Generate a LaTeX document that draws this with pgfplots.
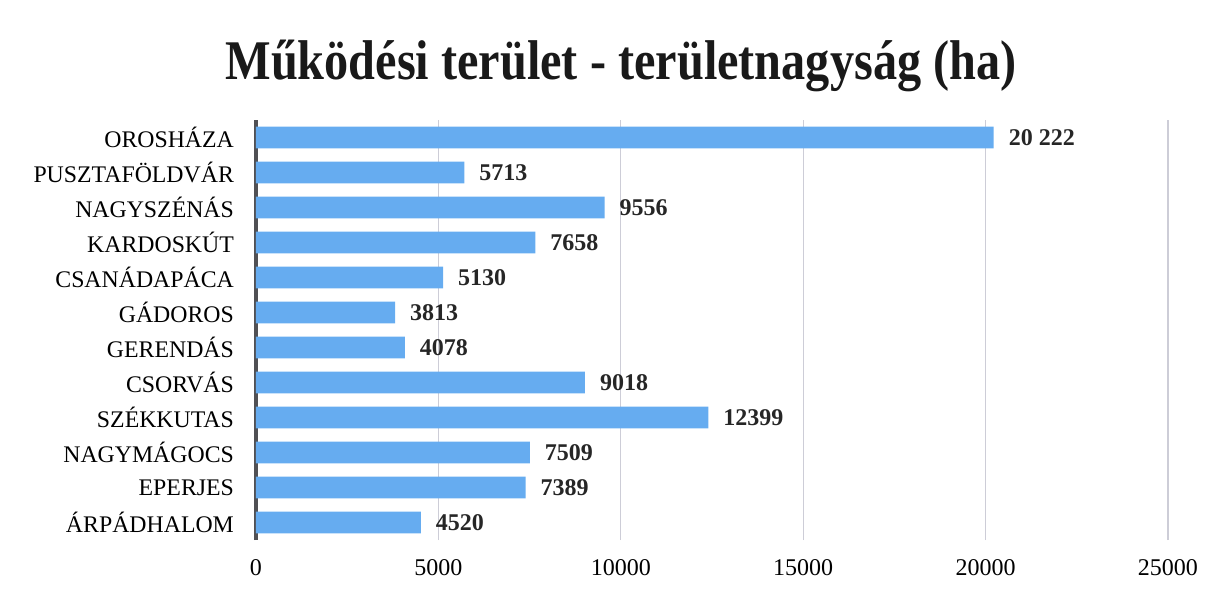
\documentclass[border=0pt]{standalone}
\usepackage{pgfplots}
\pgfplotsset{compat=1.18}
\usepackage{fontspec}
\setmainfont{Liberation Serif}
\definecolor{barblue}{RGB}{102,172,240}
\definecolor{axisgray}{RGB}{80,80,84}
\definecolor{gridgray}{RGB}{205,205,215}
\begin{document}
\begin{tikzpicture}
\useasboundingbox (-128pt,-25.5pt) rectangle (480.5pt,270pt);
\begin{axis}[
  at={(0,0)}, anchor=south west,
  scale only axis, width=456pt, height=210pt,
  xbar, bar width=10.8pt,
  xmin=0, xmax=25000, ymin=-0.5, ymax=11.5,
  xtick={0,5000,10000,15000,20000,25000},
  ytick={0,...,11},
  yticklabels={ÁRPÁDHALOM,EPERJES,NAGYMÁGOCS,SZÉKKUTAS,CSORVÁS,GERENDÁS,GÁDOROS,CSANÁDAPÁCA,KARDOSKÚT,NAGYSZÉNÁS,PUSZTAFÖLDVÁR,OROSHÁZA},
  scaled x ticks=false,
  /pgf/number format/assume math mode=true,
  /pgf/number format/set thousands separator={},
  xticklabel style={font=\fontsize{12}{14}\selectfont, yshift=-6pt},
  yticklabel style={font=\fontsize{11.9}{14}\selectfont, xshift=-7.5pt},
  major tick length=0pt,
  axis x line*=bottom, axis y line*=left,
  x axis line style={draw=none},
  y axis line style={draw=axisgray, line width=1.6pt},
  xmajorgrids, grid style={gridgray, line width=0.6pt},
  point meta=explicit symbolic,
  nodes near coords,
  nodes near coords style={font=\bfseries\fontsize{12}{14}\selectfont, anchor=west, xshift=4pt, text=black!85},
  clip=false,
]
\addplot[fill=barblue, draw=none] coordinates {
(4520,0) [4520]
(7389,1) [7389]
(7509,2) [7509]
(12399,3) [12399]
(9018,4) [9018]
(4078,5) [4078]
(3813,6) [3813]
(5130,7) [5130]
(7658,8) [7658]
(9556,9) [9556]
(5713,10) [5713]
(20222,11) [20 222]
};
\end{axis}
\node[font=\bfseries\fontsize{28}{32}\selectfont, text=black!90] at (182.5pt,237pt) {\scalebox{0.862}[1]{Működési terület - területnagyság (ha)}};
\end{tikzpicture}
\end{document}
